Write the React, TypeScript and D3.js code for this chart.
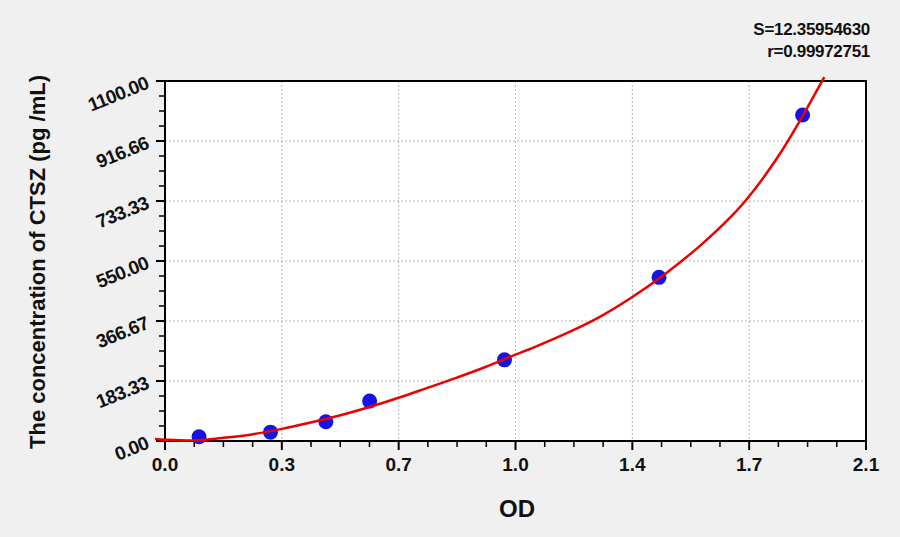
import * as d3 from 'd3'

const WIDTH = 900
const HEIGHT = 537
const PLOT = {left: 165, right: 866, top: 81, bottom: 441}

// standards (OD, pg/mL)
const pointOD = [0.102, 0.316, 0.482, 0.613, 1.017, 1.48, 1.91]
const pointConc = [13, 27, 59, 122, 248, 500, 996]

// fitted curve
const curveOD = [-0.03, 0, 0.1, 0.17, 0.26, 0.35, 0.43, 0.52, 0.61, 0.7, 0.78, 0.87, 0.96, 1.05, 1.1, 1.2, 1.3, 1.4, 1.5, 1.6, 1.7, 1.75, 1.8, 1.85, 1.9, 1.975]
const curveConc = [6, 4, 2, 9, 20, 37, 55, 77, 103, 132, 160, 192, 226, 264, 284, 328, 378, 440, 512, 594, 690, 748, 815, 890, 975, 1112]

const xTicks = [0, 0.35, 0.7, 1.05, 1.4, 1.75, 2.1]
const xTickLabels = ['0.0', '0.3', '0.7', '1.0', '1.4', '1.7', '2.1']
const yTicks = [0, 183.33, 366.67, 550, 733.33, 916.66, 1100]
const yTickLabels = ['0.00', '183.33', '366.67', '550.00', '733.33', '916.66', '1100.00']

const statLines = ['S=12.35954630', 'r=0.99972751']

const FONT = 'Arial, "Liberation Sans", Helvetica, sans-serif'

// 4 sub-divisions between major ticks
const minorTicks = (major: number[]) =>
  d3.pairs(major).flatMap(([a, b]) => [1, 2, 3].map(k => a + ((b - a) * k) / 4))

export default function App() {
  const xScale = d3.scaleLinear().domain([0, 2.1]).range([PLOT.left, PLOT.right])
  const yScale = d3.scaleLinear().domain([0, 1100]).range([PLOT.bottom, PLOT.top])

  const line = d3
    .line<number>()
    .x(i => xScale(curveOD[i]))
    .y(i => yScale(curveConc[i]))
    .curve(d3.curveCatmullRom.alpha(0.5))

  const curvePath = line(d3.range(curveOD.length)) ?? ''

  return (
    <svg width={WIDTH} height={HEIGHT} style={{position: 'absolute', left: 0, top: 0}} fontFamily={FONT}>
      <style>{'body{margin:0}'}</style>
      <rect width={WIDTH} height={HEIGHT} fill="#f0f0f0" />
      <rect
        x={PLOT.left}
        y={PLOT.top}
        width={PLOT.right - PLOT.left}
        height={PLOT.bottom - PLOT.top}
        fill="#ffffff"
      />

      {/* grid */}
      {xTicks.slice(1, -1).map((v, i) => (
        <line
          key={'gx' + i}
          x1={xScale(v)}
          x2={xScale(v)}
          y1={PLOT.top}
          y2={PLOT.bottom}
          stroke="#b4b4b4"
          strokeDasharray="2,2"
        />
      ))}
      {yTicks.slice(1, -1).map((v, i) => (
        <line
          key={'gy' + i}
          x1={PLOT.left}
          x2={PLOT.right}
          y1={yScale(v)}
          y2={yScale(v)}
          stroke="#b4b4b4"
          strokeDasharray="2,2"
        />
      ))}

      {/* frame */}
      <rect
        x={PLOT.left}
        y={PLOT.top}
        width={PLOT.right - PLOT.left}
        height={PLOT.bottom - PLOT.top}
        fill="none"
        stroke="#000"
        strokeWidth={2}
      />

      {/* x ticks */}
      {xTicks.map((v, i) => (
        <g key={'xt' + i}>
          <line x1={xScale(v)} x2={xScale(v)} y1={PLOT.bottom} y2={PLOT.bottom + 9} stroke="#000" strokeWidth={2} />
          <text x={xScale(v)} y={471} textAnchor="middle" fontSize={19} fontWeight="bold" fill="#111">
            {xTickLabels[i]}
          </text>
        </g>
      ))}
      {minorTicks(xTicks).map((v, i) => (
        <line key={'xm' + i} x1={xScale(v)} x2={xScale(v)} y1={PLOT.bottom} y2={PLOT.bottom + 6} stroke="#000" strokeWidth={1.5} />
      ))}

      {/* y ticks */}
      {yTicks.map((v, i) => {
        const y = yScale(v)
        return (
          <g key={'yt' + i}>
            <line x1={PLOT.left - 9} x2={PLOT.left} y1={y} y2={y} stroke="#000" strokeWidth={2} />
            <text
              x={150}
              y={y + 7}
              textAnchor="end"
              fontSize={19}
              fontWeight="bold"
              fill="#111"
              letterSpacing={-0.6}
              transform={`rotate(-22, 150, ${y + 7})`}>
              {yTickLabels[i]}
            </text>
          </g>
        )
      })}
      {minorTicks(yTicks).map((v, i) => (
        <line key={'ym' + i} x1={PLOT.left - 6} x2={PLOT.left} y1={yScale(v)} y2={yScale(v)} stroke="#000" strokeWidth={1.5} />
      ))}

      {/* points */}
      {pointOD.map((od, i) => (
        <circle key={'p' + i} cx={xScale(od)} cy={yScale(pointConc[i])} r={7.5} fill="#1414e6" />
      ))}

      {/* fitted curve */}
      <path d={curvePath} fill="none" stroke="#ee0000" strokeWidth={2.5} />

      {/* axis titles */}
      <text x={517} y={517} textAnchor="middle" fontSize={24} fontWeight="bold" fill="#111">
        OD
      </text>
      <text
        transform="translate(45, 262) rotate(-90)"
        textAnchor="middle"
        fontSize={22}
        fontWeight="bold"
        fill="#111">
        The concentration of CTSZ (pg /mL)
      </text>

      {/* fit statistics */}
      {statLines.map((s, i) => (
        <text key={'s' + i} x={870} y={35 + i * 22} textAnchor="end" fontSize={17} fontWeight="bold" fill="#111" letterSpacing={-0.3}>
          {s}
        </text>
      ))}
    </svg>
  )
}
